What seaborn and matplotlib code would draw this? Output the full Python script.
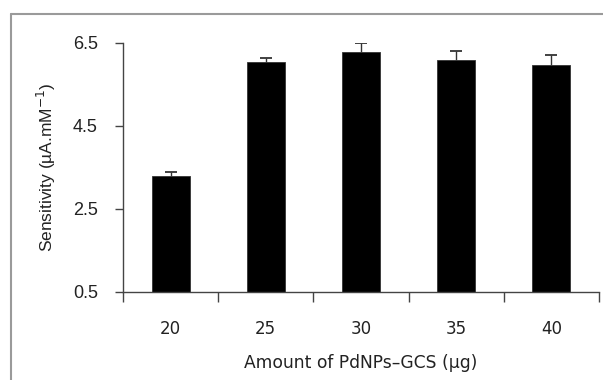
import matplotlib
matplotlib.use("Agg")
import matplotlib.pyplot as plt
from matplotlib.lines import Line2D
import seaborn as sns
import pandas as pd
import numpy as np

# PdNPs-GCS loading and measured sensitivity
amounts = ["20", "25", "30", "35", "40"]
sensitivity = [3.30, 6.05, 6.28, 6.08, 5.97]
sens_err = [0.09, 0.10, 0.21, 0.23, 0.24]
y_ticks = [0.5, 2.5, 4.5, 6.5]

df = pd.DataFrame({"amount": amounts, "sensitivity": sensitivity})

sns.set_style("ticks")
plt.rcParams["font.family"] = ["DejaVu Sans"]

fig = plt.figure(figsize=(6.03, 3.80), dpi=100)
ax = fig.add_axes([123 / 603, 1 - 292 / 380, (599 - 123) / 603, (292 - 43) / 380])

sns.barplot(data=df, x="amount", y="sensitivity", color="black", width=0.4,
            saturation=1, edgecolor="#333333", linewidth=0.6, errorbar=None, ax=ax)

# one-sided (upper) error bars
eb = ax.errorbar(np.arange(len(amounts)), sensitivity,
                 yerr=[np.zeros(len(sens_err)), sens_err],
                 fmt="none", ecolor="#333333", elinewidth=1.0, capsize=4, capthick=1.3)
eb[1][0].set_visible(False)

ax.set_ylim(0.5, 6.5)
ax.set_xlim(-0.5, len(amounts) - 0.5)
ax.set_yticks(y_ticks)
ax.set_yticklabels([f"{t:.1f}" for t in y_ticks], fontfamily="Liberation Sans", fontsize=13,
                   color="#222222")

# category labels centred, tick marks at the category boundaries
ax.set_xticks(np.arange(len(amounts)))
ax.set_xticklabels(amounts, fontsize=12, color="#222222")
ax.tick_params(axis="x", which="major", length=0, pad=20)
ax.set_xticks(np.arange(-0.5, len(amounts)), minor=True)
ax.tick_params(axis="x", which="minor", direction="out", length=7, width=1, color="#444444")
ax.tick_params(axis="y", direction="out", length=6, width=1, color="#444444", pad=12)

for side in ["top", "right"]:
    ax.spines[side].set_visible(False)
for side in ["left", "bottom"]:
    ax.spines[side].set_color("#444444")
    ax.spines[side].set_linewidth(1.0)

ax.set_xlabel("Amount of PdNPs\u2013GCS (\u00b5g)", fontsize=12.3, labelpad=12, color="#222222")
ax.set_ylabel("Sensitivity (\u00b5A.mM$^{-1}$)", fontsize=12.5, fontfamily="Liberation Sans",
              labelpad=11, color="#222222")

# outer frame lines
fig.add_artist(Line2D([11 / 603, 11 / 603], [0, 1 - 14 / 380], transform=fig.transFigure,
                      color="#9a9a9a", linewidth=1.5))
fig.add_artist(Line2D([11 / 603, 1], [1 - 14 / 380, 1 - 14 / 380], transform=fig.transFigure,
                      color="#9a9a9a", linewidth=1.5))

fig.savefig("out.png", dpi=100)
